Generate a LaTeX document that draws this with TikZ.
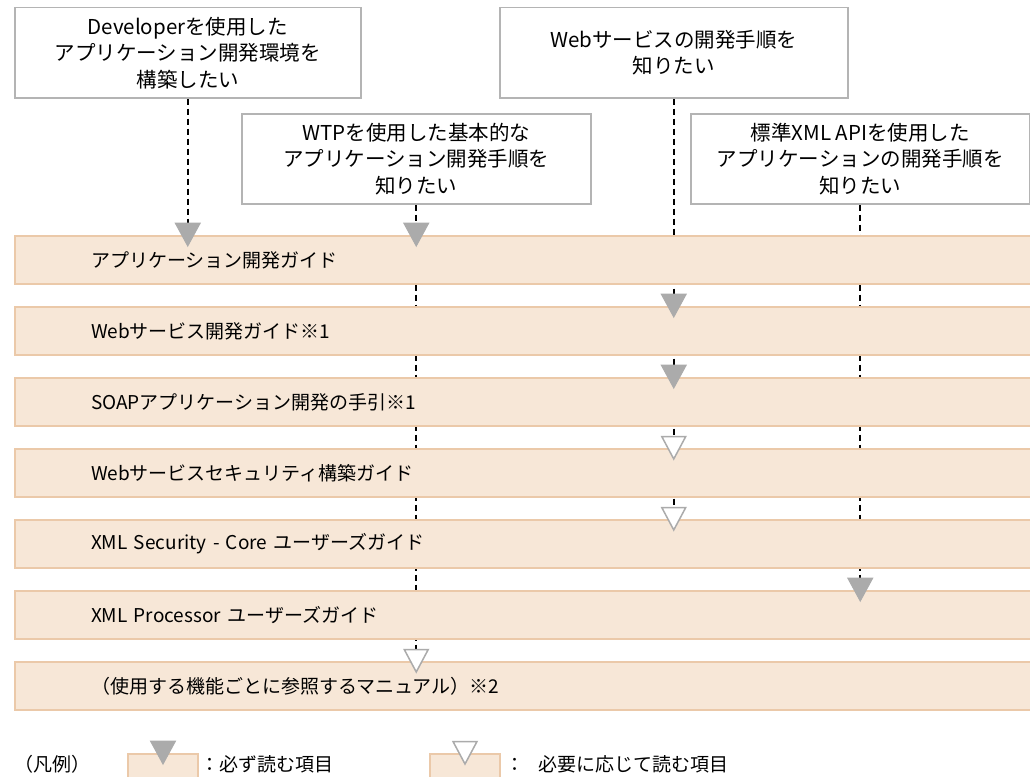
\documentclass[tikz,border=0pt]{standalone}
\usepackage{fontspec}
\setmainfont{Noto Sans CJK JP}
\usetikzlibrary{positioning}
\pgfdeclarelayer{background}
\pgfsetlayers{background,main}

\definecolor{bandfill}{HTML}{F7E7D7}
\definecolor{bandline}{HTML}{EBC9A9}
\definecolor{markgray}{HTML}{ABABAB}
\definecolor{boxline}{HTML}{B4B4B4}

\begin{document}
\begin{tikzpicture}[
    x=1pt, y=-1pt,
    goal/.style={rectangle, draw=boxline, line width=1.5pt, fill=white, minimum height=90pt, align=center, inner sep=2pt, font=\fontsize{20.5}{26.5}\selectfont},
    manual/.style={rectangle, draw=bandline, fill=bandfill, line width=2pt, minimum height=48pt, text width=900pt, align=left, inner xsep=76pt, inner ysep=0pt, font=\fontsize{19}{24}\selectfont},
    legendbox/.style={rectangle, draw=bandline, fill=bandfill, line width=2pt, minimum width=70pt, minimum height=40pt},
    legendtext/.style={inner sep=0pt, font=\fontsize{19}{24}\selectfont},
    dashline/.style={draw=black, line width=1.6pt, dash pattern=on 6pt off 4pt},
    mustmark/.pic={\filldraw[fill=markgray, draw=markgray, line width=1pt] (-12.5pt,12pt) -- (12.5pt,12pt) -- (0pt,-11pt) -- cycle;},
    optmark/.pic={\filldraw[fill=white, draw=markgray, line width=1.5pt] (-12pt,11.5pt) -- (12pt,11.5pt) -- (0pt,-11pt) -- cycle;}
]
\useasboundingbox (0,0) rectangle (1030,776);
\clip (0,0) rectangle (1030,776);

% What the reader wants to do
\node[goal, minimum width=346pt, anchor=north west] (dev) at (14,7) {Developerを使用した\\アプリケーション開発環境を\\構築したい};
\node[goal, minimum width=348pt, anchor=north west] (web) at (499,7) {Webサービスの開発手順を\\知りたい};
\node[goal, minimum width=349pt, anchor=north west] (wtp) at (241,113) {WTPを使用した基本的な\\アプリケーション開発手順を\\知りたい};
\node[goal, minimum width=339pt, anchor=north west] (xmlapi) at (690,113) {標準XML APIを使用した\\アプリケーションの開発手順を\\知りたい};

% Manuals
\node[manual, anchor=north west] (appdev) at (14,235) {アプリケーション開発ガイド};
\node[manual, below=21pt of appdev] (websvc) {Webサービス開発ガイド※1};
\node[manual, below=21pt of websvc] (soap) {SOAPアプリケーション開発の手引※1};
\node[manual, below=21pt of soap] (wssec) {Webサービスセキュリティ構築ガイド};
\node[manual, below=21pt of wssec] (xmlsec) {XML Security - Core ユーザーズガイド};
\node[manual, below=21pt of xmlsec] (xmlproc) {XML Processor ユーザーズガイド};
\node[manual, below=21pt of xmlproc] (funcman) {（使用する機能ごとに参照するマニュアル）※2};

% Reading paths
\begin{pgfonlayer}{background}
\draw[dashline] (dev.south) -- (dev.south |- appdev.north);
\draw[dashline] (wtp.south) -- (wtp.south |- funcman.north);
\draw[dashline] (web.south) -- (web.south |- xmlsec.north);
\draw[dashline] (xmlapi.south) -- (xmlapi.south |- xmlproc.north);
\end{pgfonlayer}

\pic at (dev.south |- appdev.north) {mustmark};
\pic at (wtp.south |- appdev.north) {mustmark};
\pic at (web.south |- websvc.north) {mustmark};
\pic at (web.south |- soap.north) {mustmark};
\pic at (web.south |- wssec.north) {optmark};
\pic at (web.south |- xmlsec.north) {optmark};
\pic at (xmlapi.south |- xmlproc.north) {mustmark};
\pic at (wtp.south |- funcman.north) {optmark};

% Legend
\node[legendtext, anchor=west] (legend) at (14,764) {（凡例）};
\node[legendbox, anchor=north] (mustbox) at (163,753) {};
\pic at (mustbox.north) {mustmark};
\node[legendtext, anchor=west] (musttext) at (200,764) {：必ず読む項目};
\node[legendbox, anchor=north] (optbox) at (465,753) {};
\pic at (optbox.north) {optmark};
\node[legendtext, anchor=west] (opttext) at (505,764) {：\hspace{14pt}必要に応じて読む項目};

\end{tikzpicture}
\end{document}
